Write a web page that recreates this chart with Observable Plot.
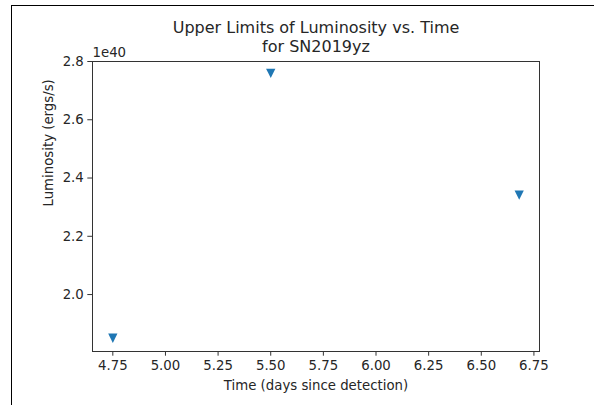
<!DOCTYPE html>
<html>
<head>
<meta charset="utf-8">
<script src="https://cdn.jsdelivr.net/npm/d3@7"></script>
<script src="https://cdn.jsdelivr.net/npm/@observablehq/plot@0.6"></script>
<style>
  html, body { margin: 0; padding: 0; background: #fff; }
  #wrap { position: relative; width: 594px; height: 405px; overflow: hidden; }
  #edge { position: absolute; left: 11px; top: 5px; right: -5px; bottom: -5px;
          border-left: 1.5px solid #000; border-top: 1.5px solid #000; pointer-events: none; }
  #wrap svg { position: absolute; left: 0; top: 0; }
</style>
</head>
<body>
<div id="wrap"><div id="edge"></div></div>
<script>
// Data (luminosity in units of 1e40 ergs/s)
const time = [4.75, 5.50, 6.68];
const luminosity = [1.85, 2.759, 2.341];
const xTicks = [4.75, 5.00, 5.25, 5.50, 5.75, 6.00, 6.25, 6.50, 6.75];
const yTicks = [2.0, 2.2, 2.4, 2.6, 2.8];
const titleLines = ["Upper Limits of Luminosity vs. Time", "for SN2019yz"];
const xLabel = "Time (days since detection)";
const yLabel = "Luminosity (ergs/s)";
const offsetText = "1e40";

const data = time.map((t, i) => ({time: t, lum: luminosity[i]}));

// matplotlib-like 5% margins
const xMin = d3.min(time), xMax = d3.max(time);
const yMin = d3.min(luminosity), yMax = d3.max(luminosity);
const xPad = (xMax - xMin) * 0.05, yPad = (yMax - yMin) * 0.05;

const font = "DejaVu Sans, sans-serif";
const ink = "#262626";

// matplotlib "v" marker: downward triangle, width = height, bbox-centred
const triangleDown = {
  draw(ctx, size) {
    const a = Math.sqrt(size / Math.PI) * 1.45;
    ctx.moveTo(-a, -a);
    ctx.lineTo(a, -a);
    ctx.lineTo(0, a);
    ctx.closePath();
  }
};

const chart = Plot.plot({
  width: 594,
  height: 405,
  marginLeft: 92,
  marginRight: 55,
  marginTop: 61,
  marginBottom: 54,
  style: {fontFamily: font, fontSize: "13.3px", color: ink, background: "transparent"},
  x: {domain: [xMin - xPad, xMax + xPad]},
  y: {domain: [yMin - yPad, 2.8]},
  marks: [
    Plot.axisX({ticks: xTicks, tickFormat: d => d.toFixed(2), tickSize: 4.7, tickPadding: 4, label: null, stroke: "#333", fill: ink, fontSize: 13.3}),
    Plot.axisY({ticks: yTicks, tickFormat: d => d.toFixed(1), tickSize: 4.7, tickPadding: 4, label: null, stroke: "#333", fill: ink, fontSize: 13.3}),
    Plot.frame({stroke: "#333", strokeWidth: 1}),
    Plot.dot(data, {x: "time", y: "lum", symbol: triangleDown, r: 3.2, fill: "#1f77b4", stroke: "none"}),
    Plot.text([xLabel], {frameAnchor: "bottom", lineAnchor: "middle", dy: 34, fontSize: 13.3, fill: ink}),
    Plot.text([yLabel], {frameAnchor: "left", lineAnchor: "middle", dx: -44, rotate: -90, fontSize: 13.3, fill: ink}),
    Plot.text([offsetText], {frameAnchor: "top-left", lineAnchor: "middle", textAnchor: "start", dy: -9, dx: 0, fontSize: 13.3, fill: ink}),
    Plot.text([titleLines[0]], {frameAnchor: "top", lineAnchor: "middle", dy: -34, fontSize: 16, fill: ink}),
    Plot.text([titleLines[1]], {frameAnchor: "top", lineAnchor: "middle", dy: -15, fontSize: 16, fill: ink})
  ]
});
document.getElementById("wrap").appendChild(chart);
</script>
</body>
</html>
